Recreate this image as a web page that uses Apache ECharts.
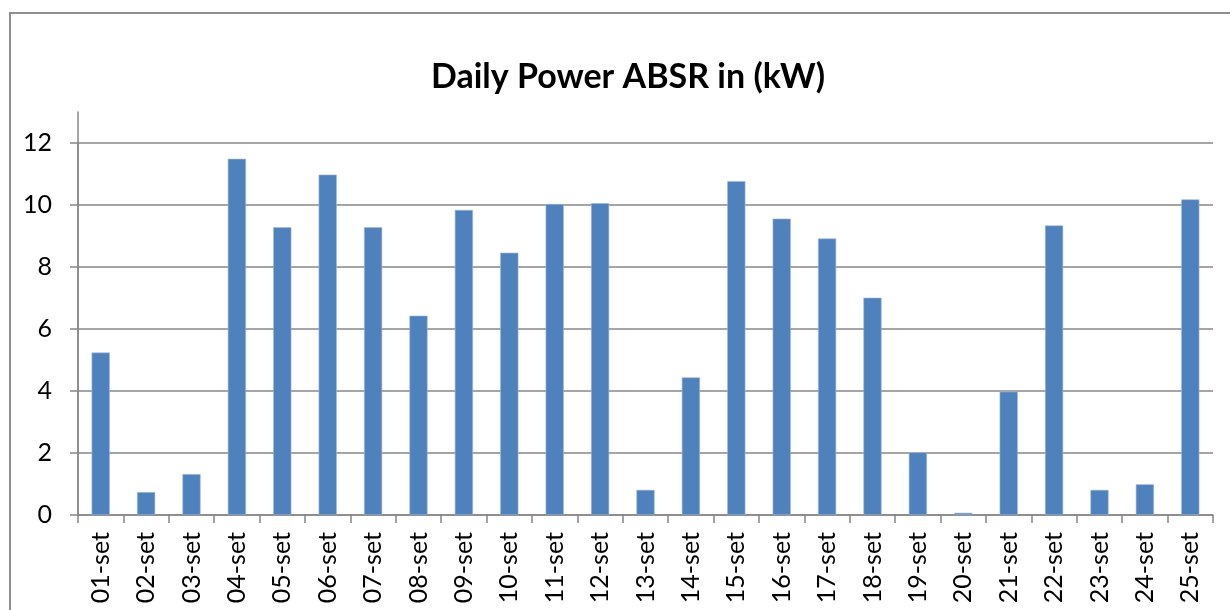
<!DOCTYPE html>
<html>
<head>
<meta charset="utf-8">
<title>Daily Power ABSR in (kW)</title>
<script src="https://cdn.jsdelivr.net/npm/echarts@6/dist/echarts.min.js"></script>
<style>
  html, body { margin: 0; padding: 0; background: #ffffff; overflow: hidden; }
  #chart { position: absolute; left: 0; top: 0; width: 1230px; height: 610px; }
  #frame { position: absolute; left: 9px; top: 12px; width: 1240px; height: 620px;
           border: 2px solid #8f8f8f; box-sizing: border-box; pointer-events: none; }
</style>
</head>
<body>
<div id="chart"></div>
<div id="frame"></div>
<script>
// Day labels (September, Italian abbreviation)
const days = ['01-set', '02-set', '03-set', '04-set', '05-set', '06-set', '07-set', '08-set', '09-set',
  '10-set', '11-set', '12-set', '13-set', '14-set', '15-set', '16-set', '17-set', '18-set', '19-set',
  '20-set', '21-set', '22-set', '23-set', '24-set', '25-set'];

// Daily absorbed power, kW
const powerKW = [5.24, 0.74, 1.32, 11.49, 9.28, 10.98, 9.28, 6.43, 9.84, 8.46, 10.03, 10.06, 0.81,
  4.44, 10.77, 9.56, 8.92, 7.01, 2.02, 0.07, 3.98, 9.34, 0.81, 0.99, 10.18];

// Value axis settings
const yMin = 0;
const yMax = 12;
const yStep = 2;
const yAxisTop = 13; // the axis line runs a little above the last gridline

const FONT = 'Lato, "Open Sans", sans-serif';
const GRID_COLOR = '#878787';

const chart = echarts.init(document.getElementById('chart'), null, { renderer: 'canvas' });

const side = { left: 78, right: 17, bottom: 95 };

chart.setOption({
  animation: false,
  backgroundColor: 'transparent',
  title: {
    text: 'Daily Power ABSR in (kW)',
    left: 426,
    top: 55,
    textStyle: { fontFamily: FONT, fontWeight: 'bold', fontSize: 34, color: '#000000' }
  },
  grid: [
    // full-height frame carrying the taller vertical axis line
    Object.assign({ top: 112 }, side),
    // plotting grid
    Object.assign({ top: 143 }, side)
  ],
  xAxis: [
    {
      type: 'category', gridIndex: 0, data: days,
      axisLine: { show: false }, axisTick: { show: false }, axisLabel: { show: false }
    },
    {
      type: 'category', gridIndex: 1, data: days,
      boundaryGap: true,
      axisLine: { show: true, lineStyle: { color: GRID_COLOR, width: 1.5 } },
      axisTick: { show: true, length: 8, lineStyle: { color: GRID_COLOR, width: 1.5 } },
      axisLabel: {
        rotate: 90, margin: 17, interval: 0,
        fontFamily: FONT, fontSize: 25, color: '#000000'
      }
    }
  ],
  yAxis: [
    {
      type: 'value', gridIndex: 0, min: yMin, max: yAxisTop,
      axisLine: { show: true, lineStyle: { color: GRID_COLOR, width: 1.5 } },
      axisTick: { show: false }, axisLabel: { show: false }, splitLine: { show: false }
    },
    {
      type: 'value', gridIndex: 1, min: yMin, max: yMax, interval: yStep,
      axisLine: { show: true, lineStyle: { color: GRID_COLOR, width: 1.5 } },
      axisTick: { show: true, inside: false, length: 8, lineStyle: { color: GRID_COLOR, width: 1.5 } },
      axisLabel: { margin: 26, fontFamily: FONT, fontSize: 25, color: '#000000' },
      splitLine: { show: true, lineStyle: { color: GRID_COLOR, width: 1.5 } }
    }
  ],
  series: [
    {
      type: 'bar',
      xAxisIndex: 1,
      yAxisIndex: 1,
      data: powerKW,
      barCategoryGap: '60%',
      itemStyle: { color: '#4f81bd', borderColor: '#9fb9da', borderWidth: 0.6 }
    }
  ]
});
</script>
</body>
</html>
